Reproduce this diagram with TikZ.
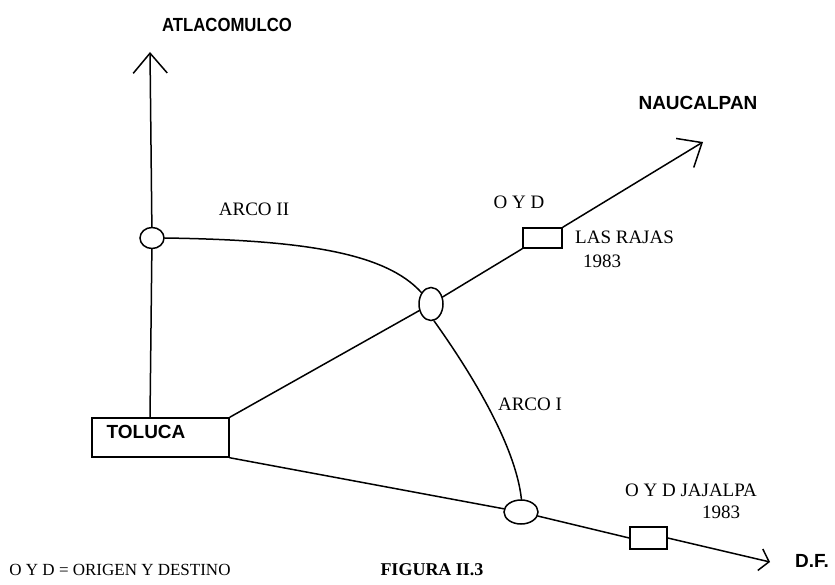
\documentclass[tikz,border=0pt]{standalone}
\usepackage{fontspec}
\setmainfont{Liberation Serif}
\newfontfamily\lsans{Liberation Sans}
\usetikzlibrary{shapes.geometric,arrows.meta}
\tikzset{
  road/.style={line width=1.5pt,line cap=round,line join=round},
  bigtip/.style={-{Straight Barb[length=20pt,width=34pt,line width=1.5pt]}},
  smalltip/.style={-{Straight Barb[length=9pt,width=22pt,line width=1.5pt]}},
  junction/.style={ellipse,draw,line width=1.5pt,inner sep=0pt},
  odbox/.style={rectangle,draw,line width=1.5pt,inner sep=0pt},
  serlab/.style={font=\fontsize{19}{21}\selectfont,inner sep=0pt},
  sanlab/.style={font=\lsans\bfseries\fontsize{19}{21}\selectfont,inner sep=0pt},
}
\begin{document}
\begin{tikzpicture}[x=1pt,y=-1pt]
\useasboundingbox (0,0) rectangle (835,585);
% nodes
\node[odbox,minimum width=137pt,minimum height=39pt] (tol) at (160.5,437.5) {};
\node[sanlab,anchor=center] (toltxt) at (146,432) {TOLUCA};
\node[junction,minimum width=24pt,minimum height=21pt] (le) at (152,238) {};
\node[junction,minimum width=24pt,minimum height=33pt] (ce) at (431,304) {};
\node[junction,minimum width=34pt,minimum height=24pt] (lo) at (521,512) {};
\node[odbox,minimum width=39pt,minimum height=20pt] (lr) at (542.5,238) {};
\node[odbox,minimum width=37pt,minimum height=22pt] (jj) at (648.5,538) {};
\coordinate (v0) at (150,418);
\coordinate (atip) at (150,52);
\coordinate (ntip) at (703,142);
\coordinate (dtip) at (770,562);
% roads
\draw[road] (v0) -- (le);
\draw[road,bigtip] (le) -- (atip);
\draw[road] (tol.north east) -- (ce);
\draw[road] (ce) -- (lr.south west);
\draw[road,bigtip] (lr.north east) -- (ntip);
\draw[road] (tol.south east) -- (lo);
\draw[road] (lo) -- (jj.west);
\draw[road,smalltip] (jj.east) -- (dtip);
% arcs
\draw[road] (le.east) .. controls (300,240) and (385,252) .. (ce.130);
\draw[road] (ce.280) .. controls (462,360) and (515,440) .. (lo.88);
% labels
\node[sanlab,xscale=0.88] (atl) at (227,25) {ATLACOMULCO};
\node[sanlab] (nau) at (698,103) {NAUCALPAN};
\node[sanlab] (df) at (812,561) {D.F.};
\node[serlab] (a2) at (254,209) {ARCO II};
\node[serlab] (a1) at (530,404) {ARCO I};
\node[serlab] (oyd1) at (519,202) {O Y D};
\node[serlab,anchor=west] (lrt) at (575,237) {LAS RAJAS};
\node[serlab] (y1) at (602,261) {1983};
\node[serlab] (oyd2) at (691,490) {O Y D JAJALPA};
\node[serlab] (y2) at (721,512) {1983};
\node[serlab,font=\fontsize{17}{19}\selectfont] (leg) at (120,570) {O Y D = ORIGEN Y DESTINO};
\node[serlab,font=\bfseries\fontsize{18}{20}\selectfont] (fig) at (432,570) {FIGURA II.3};
\end{tikzpicture}
\end{document}
